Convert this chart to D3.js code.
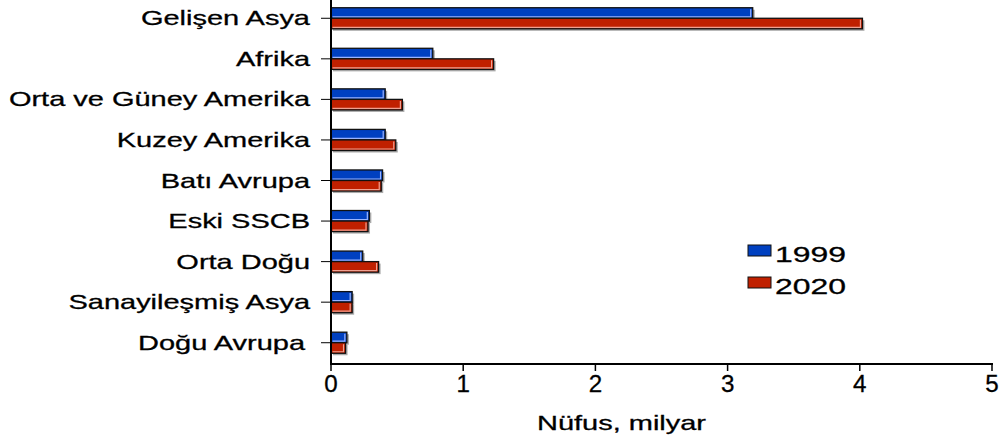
<!DOCTYPE html>
<html>
<head>
<meta charset="utf-8">
<script src="https://cdn.jsdelivr.net/npm/d3@7"></script>
<style>
  body { margin: 0; background: #fff; }
  svg { display: block; font-family: "Liberation Sans", Arial, sans-serif; }
  text { stroke: #000; stroke-width: 0.3; }
</style>
</head>
<body>
<div id="chart"></div>
<script>
// bölgeler ve nüfus (milyar)
const regions = ["Gelişen Asya", "Afrika", "Orta ve Güney Amerika", "Kuzey Amerika", "Batı Avrupa",
                 "Eski SSCB", "Orta Doğu", "Sanayileşmiş Asya", "Doğu Avrupa"];
const years = ["1999", "2020"];
const pop1999 = [3.19, 0.77, 0.41, 0.41, 0.39, 0.29, 0.24, 0.16, 0.12];
const pop2020 = [4.02, 1.23, 0.54, 0.49, 0.38, 0.28, 0.36, 0.16, 0.11];
const xTicks = [0, 1, 2, 3, 4, 5];

const width = 1006, height = 445;
const margin = {top: -2, right: 14, bottom: 82, left: 331};
const colors = {"1999": "#0040c0", "2020": "#c02000"};
const stretch = 1.38;

const svg = d3.select("#chart").append("svg")
    .attr("width", width)
    .attr("height", height);

const x = d3.scaleLinear().domain([0, 5]).range([margin.left, width - margin.right]);
const y = d3.scaleBand().domain(regions).range([margin.top, height - margin.bottom]).paddingInner(0.48).paddingOuter(0.24);
const ySub = d3.scaleBand().domain(years).range([0, y.bandwidth()]);

const rows = regions.map((r, i) => ({region: r, values: [
    {year: "1999", v: pop1999[i]},
    {year: "2020", v: pop2020[i]}
]}));

const g = svg.selectAll("g.row").data(rows).enter().append("g")
    .attr("class", "row")
    .attr("transform", d => `translate(0,${y(d.region)})`);

const bars = g.selectAll("g.bar").data(d => d.values).enter().append("g").attr("class", "bar");

// gölge
bars.append("rect")
    .attr("x", x(0) + 2)
    .attr("y", d => ySub(d.year) + 2)
    .attr("width", d => x(d.v) - x(0))
    .attr("height", ySub.bandwidth())
    .attr("fill", "#aaa");
bars.append("rect")
    .attr("x", x(0))
    .attr("y", d => ySub(d.year))
    .attr("width", d => x(d.v) - x(0))
    .attr("height", ySub.bandwidth())
    .attr("fill", d => colors[d.year])
    .attr("stroke", "#111")
    .attr("stroke-width", 1.3);
// iç parlaklık
bars.append("path")
    .attr("d", d => {
        const x0 = x(0) + 1.5, x1 = x(d.v) - 2, y0 = ySub(d.year) + 1.5, y1 = ySub(d.year) + ySub.bandwidth() - 1.5;
        return `M${x1},${y0}V${y1}H${x0}`;
    })
    .attr("fill", "none")
    .attr("stroke", d => d.year === "1999" ? "#9ab4ff" : "#f0a090")
    .attr("stroke-width", 1.2);

// y ekseni
svg.append("line")
    .attr("x1", x(0)).attr("x2", x(0))
    .attr("y1", 0).attr("y2", 364)
    .attr("stroke", "#000").attr("stroke-width", 2);

svg.selectAll("line.ytick").data(regions).enter().append("line")
    .attr("class", "ytick")
    .attr("x1", x(0) - 10).attr("x2", x(0))
    .attr("y1", d => y(d) + y.bandwidth() / 2)
    .attr("y2", d => y(d) + y.bandwidth() / 2)
    .attr("stroke", "#000").attr("stroke-width", 1);

svg.selectAll("text.ylab").data(regions).enter().append("text")
    .attr("class", "ylab")
    .attr("transform", d => `translate(${d === "Doğu Avrupa" ? 305 : 310},${y(d) + y.bandwidth() / 2 + 7}) scale(${stretch},1)`)
    .attr("text-anchor", "end")
    .attr("font-size", 21)
    .attr("fill", "#000")
    .text(d => d);

// x ekseni
svg.append("line")
    .attr("x1", x(0) - 1).attr("x2", x(5) + 1)
    .attr("y1", 364).attr("y2", 364)
    .attr("stroke", "#000").attr("stroke-width", 2);

svg.selectAll("line.xtick").data(xTicks).enter().append("line")
    .attr("class", "xtick")
    .attr("x1", d => x(d)).attr("x2", d => x(d))
    .attr("y1", 364).attr("y2", 371)
    .attr("stroke", "#000").attr("stroke-width", 1.5);

svg.selectAll("text.xlab").data(xTicks).enter().append("text")
    .attr("class", "xlab")
    .attr("transform", d => `translate(${x(d)},${392}) scale(1.05,1)`)
    .attr("text-anchor", "middle")
    .attr("font-size", 23)
    .text(d => d);

svg.append("text")
    .attr("transform", `translate(${(x(0) + x(5)) / 2 - 40},${430}) scale(${stretch},1)`)
    .attr("text-anchor", "middle")
    .attr("font-size", 21)
    .text("Nüfus, milyar");

// lejant
const leg = svg.selectAll("g.leg").data(years).enter().append("g")
    .attr("class", "leg")
    .attr("transform", (d, i) => `translate(748,${245 + i * 32})`);
leg.append("rect")
    .attr("width", 23).attr("height", 11)
    .attr("fill", d => colors[d])
    .attr("stroke", "#111").attr("stroke-width", 1);
leg.append("text")
    .attr("transform", `translate(27,17) scale(1.45,1)`)
    .attr("font-size", 22)
    .text(d => d);
</script>
</body>
</html>
